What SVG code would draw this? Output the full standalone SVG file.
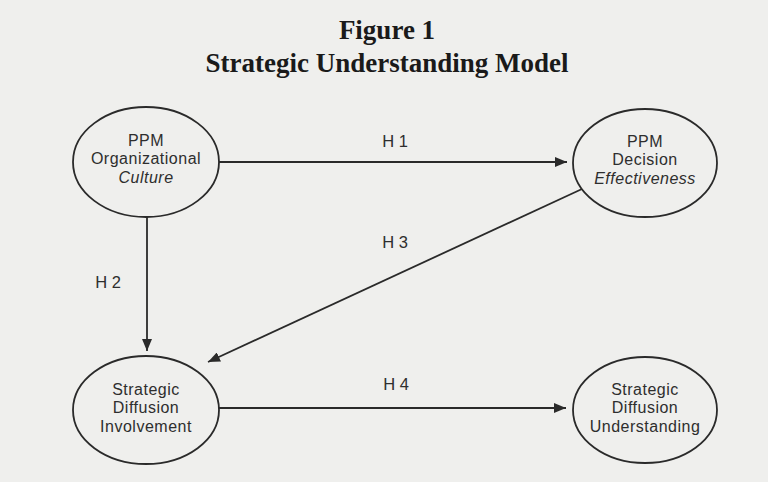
<svg xmlns="http://www.w3.org/2000/svg" width="768" height="482" viewBox="0 0 768 482">
<defs>
<style>
.bg{fill:#efefed}
.node{fill:none;stroke:#2a2a2a;stroke-width:1.8}
.t{font-family:"Liberation Sans",Arial,sans-serif;font-size:16px;letter-spacing:0.5px;fill:#2e2e2e;text-anchor:middle}
.i{font-style:italic}
.lbl{font-family:"Liberation Sans",Arial,sans-serif;font-size:16.5px;fill:#2e2e2e;text-anchor:middle}
.title{font-family:"Liberation Serif","Times New Roman",serif;font-weight:bold;font-size:27px;fill:#1a1a1a;text-anchor:middle}
.edge{stroke:#2a2a2a;stroke-width:1.8;fill:none;marker-end:url(#ah)}
</style>
<marker id="ah" viewBox="0 0 12 10" refX="12" refY="5" markerWidth="12" markerHeight="10" markerUnits="userSpaceOnUse" orient="auto">
<path d="M0,0 L12,5 L0,10 Z" fill="#2a2a2a"/>
</marker>
</defs>
<rect class="bg" x="0" y="0" width="768" height="482"/>
<g id="title">
<text class="title" x="387" y="39">Figure 1</text>
<text class="title" x="387" y="72">Strategic Understanding Model</text>
</g>
<g id="connectors">
<line class="edge" x1="219" y1="162" x2="567" y2="162"/>
<line class="edge" x1="147" y1="217" x2="147" y2="351"/>
<line class="edge" x1="582" y1="189" x2="208" y2="362"/>
<line class="edge" x1="219" y1="408" x2="566" y2="408"/>
<text class="lbl" x="395" y="147">H 1</text>
<text class="lbl" x="108" y="288">H 2</text>
<text class="lbl" x="395" y="248">H 3</text>
<text class="lbl" x="396" y="390">H 4</text>
</g>
<g id="n1">
<ellipse class="node" cx="146" cy="162" rx="73" ry="55"/>
<text class="t" x="146" y="145.5">PPM</text>
<text class="t" x="146" y="164">Organizational</text>
<text class="t i" x="146" y="182.5">Culture</text>
</g>
<g id="n2">
<ellipse class="node" cx="645" cy="163" rx="72" ry="54"/>
<text class="t" x="645" y="146.5">PPM</text>
<text class="t" x="645" y="165">Decision</text>
<text class="t i" x="645" y="183.5">Effectiveness</text>
</g>
<g id="n3">
<ellipse class="node" cx="146" cy="410" rx="73" ry="54"/>
<text class="t" x="146" y="394.5">Strategic</text>
<text class="t" x="146" y="413">Diffusion</text>
<text class="t" x="146" y="431.5">Involvement</text>
</g>
<g id="n4">
<ellipse class="node" cx="645" cy="410" rx="72" ry="53"/>
<text class="t" x="645" y="394.5">Strategic</text>
<text class="t" x="645" y="413">Diffusion</text>
<text class="t" x="645" y="431.5">Understanding</text>
</g>
</svg>
